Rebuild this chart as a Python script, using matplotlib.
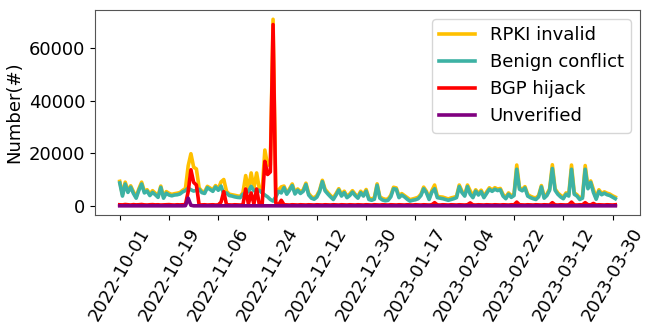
"""
Daily counts of RPKI-invalid route announcements, split by cause.
Oct 2022 - Mar 2023.
"""

import numpy as np
import pandas as pd
import matplotlib
matplotlib.use("Agg")
import matplotlib.pyplot as plt

# Daily series, 2022-10-01 .. 2023-03-31
START_DATE = "2022-10-01"
END_DATE = "2023-03-31"

RPKI_INVALID = [
    9400, 4350, 9100, 5800, 7700, 5450, 3550, 6600, 9100, 5550,
    6200, 4600, 5850, 4850, 3900, 7600, 3550, 5500, 4850, 4450,
    4700, 4900, 5150, 6000, 6650,
    15300, 19900, 14800, 14100, 6900, 5650, 5400, 7500, 6850, 6200,
    7800, 6550, 9200, 10100, 5600, 4550, 4300, 4100, 3850, 3700,
    5100, 11600, 6400, 12600, 6700, 12600, 6500, 5400, 21300, 15600,
    15600, 71000,
    4800, 6100, 7300, 7600, 5050, 6500, 8400, 5150, 6500, 5400,
    6150, 8700, 4800, 3550, 3100, 4000, 6050, 9800, 6400, 5150, 4000,
    3100, 4750, 6600, 4400, 5650, 3700, 4600, 5850, 4500, 3600,
    5650, 4300, 6300, 3050, 2700, 3200, 8450, 3500, 2900, 2550,
    2700, 4100, 7150, 6900, 3800, 4750, 4000,
    3200, 2450, 2700, 3000, 3350, 4500, 7200, 5650, 3000, 5900,
    8000, 3750, 3500, 3400, 3050, 2700, 3100, 3350, 3700, 8000,
    5650, 4300, 8000, 5800, 3750, 6200,
    4800, 6050, 3700, 5400, 6950, 6100, 7000, 6450, 6700, 4400,
    3350, 5000, 3900, 4550, 15600, 7000, 6350, 7400, 4400, 3750,
    3300, 3100, 4050, 7800, 3600, 4550, 6500,
    15700, 6550, 5000, 4100, 3350, 5000, 4400, 15600, 5050, 4300,
    3100, 3550, 15400, 7200, 9550, 6300, 3100, 6200, 4850, 5400,
    4900, 4550, 3900, 3400,
]

BENIGN_CONFLICT = [
    8800, 3800, 8400, 5200, 7200, 4800, 3000, 6000, 8400, 5000,
    5700, 4000, 5200, 4300, 3300, 7100, 3000, 4900, 4200, 3900,
    4200, 4300, 4600, 5400, 5900,
    6800, 6200, 5700, 6000, 6400, 5100, 4800, 7000, 6300, 5600,
    7300, 6000, 7600, 4500, 5000, 4000, 3800, 3500, 3300, 3200,
    4500, 5000, 5500, 7500, 5800, 6000, 6000, 5000, 4200, 3500,
    2500, 1900,
    3500, 5600, 5000, 7000, 4500, 6000, 7800, 4600, 6000, 4800,
    5600, 8200, 4200, 3000, 2600, 3400, 5500, 9300, 5800, 4600, 3500,
    2500, 4200, 6100, 3800, 5100, 3200, 4000, 5300, 4000, 3000,
    5100, 3800, 5700, 2500, 2200, 2600, 7900, 3000, 2300, 2000,
    2200, 3500, 6600, 6400, 3200, 4200, 3500,
    2600, 1900, 2200, 2400, 2800, 4000, 6600, 5100, 2500, 5300,
    6600, 3200, 3000, 2800, 2500, 2200, 2500, 2800, 3200, 7400,
    5100, 3800, 7400, 4500, 3200, 5700,
    4200, 5500, 3200, 4800, 6400, 5600, 6400, 5900, 6200, 3800,
    2800, 4500, 3300, 4000, 14000, 6400, 5800, 6900, 3800, 3200,
    2800, 2500, 3500, 7300, 3000, 4000, 6000,
    14300, 6000, 4500, 3500, 2800, 4500, 3800, 14000, 4500, 3800,
    2500, 3000, 14000, 6600, 9000, 5200, 2600, 5600, 4300, 4900,
    4300, 4000, 3400, 2800,
]

BGP_HIJACK = [
    500, 450, 600, 500, 400, 550, 450, 500, 600, 450,
    400, 500, 550, 450, 500, 400, 450, 500, 550, 450,
    400, 500, 450, 500, 600,
    5500, 13800, 9000, 8000, 400, 450, 500, 400, 450, 500,
    400, 450, 1500, 5500, 500, 450, 400, 500, 450, 400,
    500, 6500, 800, 5000, 800, 6500, 400, 300, 17000, 12000,
    13000, 69000,
    1200, 400, 2200, 500, 450, 400, 500, 450, 400, 500,
    450, 400, 500, 450, 400, 500, 450, 400, 500, 450, 400,
    500, 450, 400, 500, 450, 400, 500, 450, 400, 500,
    450, 400, 500, 450, 400, 500, 450, 400, 500, 450,
    400, 500, 450, 400, 500, 450, 400,
    500, 450, 400, 500, 450, 400, 500, 450, 400, 500,
    1300, 450, 400, 500, 450, 400, 500, 450, 400, 500,
    450, 400, 500, 1200, 450, 400,
    500, 450, 400, 500, 450, 400, 500, 450, 400, 500,
    450, 400, 500, 450, 1500, 500, 450, 400, 500, 450,
    400, 500, 450, 400, 500, 450, 400,
    1300, 450, 400, 500, 450, 400, 500, 1500, 450, 400,
    500, 450, 1300, 500, 450, 1000, 400, 500, 450, 400,
    500, 450, 400, 500,
]

UNVERIFIED = [
    100, 100, 100, 100, 100, 100, 100, 100, 100, 100,
    100, 100, 100, 100, 100, 100, 100, 100, 100, 100,
    100, 100, 100, 100, 150,
    3000, 300, 100, 100, 100, 100, 100, 100, 100, 100,
    100, 100, 100, 100, 100, 100, 100, 100, 100, 100,
    100, 100, 100, 100, 100, 100, 100, 100, 100, 100,
    100, 100,
    100, 100, 100, 100, 100, 100, 100, 100, 100, 100,
    100, 100, 100, 100, 100, 100, 100, 100, 100, 100, 100,
    100, 100, 100, 100, 100, 100, 100, 100, 100, 100,
    100, 100, 100, 100, 100, 100, 100, 100, 100, 100,
    100, 100, 100, 100, 100, 100, 100,
    100, 100, 100, 100, 100, 100, 100, 100, 100, 100,
    100, 100, 100, 100, 100, 100, 100, 100, 100, 100,
    100, 100, 100, 100, 100, 100,
    100, 100, 100, 100, 100, 100, 100, 100, 100, 100,
    100, 100, 100, 100, 100, 100, 100, 100, 100, 100,
    100, 100, 100, 100, 100, 100, 100,
    100, 100, 100, 100, 100, 100, 100, 100, 100, 100,
    100, 100, 100, 100, 100, 100, 100, 100, 100, 100,
    100, 100, 100, 100,
]

SERIES_LABELS = ["RPKI invalid", "Benign conflict", "BGP hijack", "Unverified"]
SERIES_COLORS = ["#FFC000", "#3DB2A4", "#FF0000", "#800080"]

TICK_LABELS = [
    "2022-10-01", "2022-10-19", "2022-11-06", "2022-11-24", "2022-12-12",
    "2022-12-30", "2023-01-17", "2023-02-04", "2023-02-22", "2023-03-12",
    "2023-03-30",
]


def make_figure(save_path="out.png"):
    dates = pd.date_range(START_DATE, END_DATE, freq="D")
    series = [RPKI_INVALID, BENIGN_CONFLICT, BGP_HIJACK, UNVERIFIED]

    fig, ax = plt.subplots(figsize=(6.64, 3.32), dpi=100)
    fig.subplots_adjust(left=0.143, right=0.964, top=0.97, bottom=0.352)

    for values, label, color in zip(series, SERIES_LABELS, SERIES_COLORS):
        ax.plot(dates, values, color=color, linewidth=2.6, label=label)

    ax.set_xticks(pd.to_datetime(TICK_LABELS))
    ax.set_xticklabels(TICK_LABELS, rotation=60, fontsize=13)
    ax.tick_params(axis="y", labelsize=13)
    ax.set_ylabel("Number(#)", fontsize=13)

    for spine in ax.spines.values():
        spine.set_color("#555555")

    ax.legend(loc="upper right", fontsize=13)

    fig.savefig(save_path, dpi=100)
    return fig


if __name__ == "__main__":
    make_figure("out.png")
